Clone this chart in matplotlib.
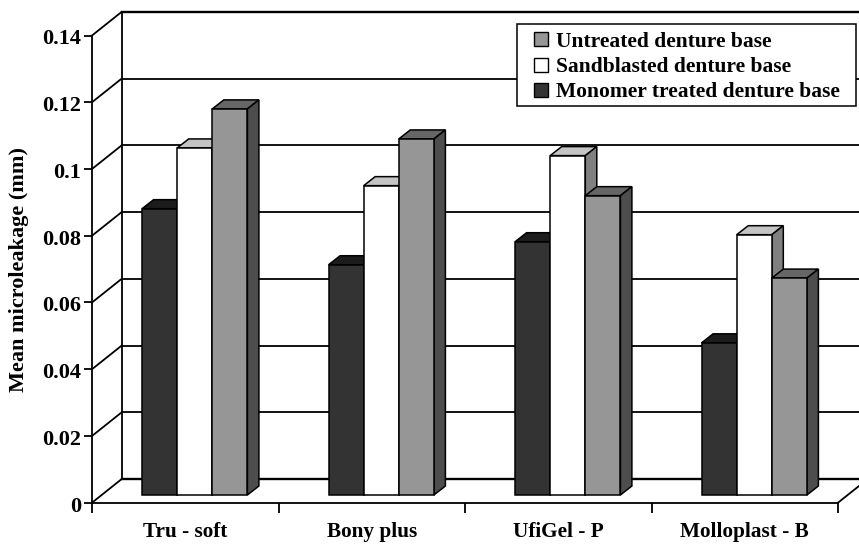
import matplotlib
matplotlib.use("Agg")
import matplotlib.pyplot as plt
from matplotlib.patches import Polygon, Rectangle
from matplotlib.lines import Line2D
from matplotlib.transforms import ScaledTranslation

plt.rcParams['font.family'] = ['Liberation Serif', 'DejaVu Serif']
plt.rcParams['font.weight'] = 'bold'

categories = ['Tru - soft', 'Bony plus', 'UfiGel - P', 'Molloplast - B']
monomer = [0.0858, 0.0690, 0.0759, 0.0456]
sandblasted = [0.1040, 0.0927, 0.1017, 0.0780]
untreated = [0.1157, 0.1067, 0.0897, 0.0650]
series_names = ['Monomer treated denture base', 'Sandblasted denture base', 'Untreated denture base']
y_ticks = [0, 0.02, 0.04, 0.06, 0.08, 0.1, 0.12, 0.14]
y_labels = ['0', '0.02', '0.04', '0.06', '0.08', '0.1', '0.12', '0.14']

W, H = 859, 545
fig = plt.figure(figsize=(W/100, H/100), dpi=100)
x0, x1, ytop, ybot = 92, 838, 35.5, 502.7
ax = fig.add_axes([x0/W, 1-ybot/H, (x1-x0)/W, (ybot-ytop)/H])
ax.set_xlim(0, 4)
ax.set_ylim(0, 0.14)
px_x = 4/(x1-x0)
px_y = 0.14/(ybot-ytop)

depth_x, depth_y = 29.5*px_x, 23.5*px_y
bar_w = 35.1*px_x
shift_x, shift_y = 9.5*px_x, 7.7*px_y
bar_dx, bar_dy = 11.5*px_x, 9*px_y

lw = 1.3
kw = dict(color='black', clip_on=False, zorder=1, solid_capstyle='projecting')
for t in y_ticks:
    ax.plot([0, depth_x], [t, t+depth_y], lw=lw, **kw)
    ax.plot([depth_x, 4+depth_x], [t+depth_y, t+depth_y], lw=1.7 if t in (0, 0.14) else lw, **kw)
ax.plot([depth_x, depth_x], [depth_y, 0.14+depth_y], lw=lw, **kw)
ax.plot([4, 4+depth_x], [0, depth_y], lw=lw, **kw)

styles = [('#333333', '#1c1c1c', '#1c1c1c'),
          ('#ffffff', '#c4c4c4', '#808080'),
          ('#969696', '#666666', '#4d4d4d')]
for s, (vals, (front, top, side)) in enumerate(zip([monomer, sandblasted, untreated], styles)):
    z = 3 + s
    xs = [i + 0.5 + (s-1)*bar_w + shift_x for i in range(len(categories))]
    ax.bar(xs, vals, width=bar_w, bottom=shift_y, color=front, edgecolor='black',
           linewidth=1.1, zorder=z+0.5, label=series_names[s])
    for x, v in zip(xs, vals):
        l, r, yb, yt = x-bar_w/2, x+bar_w/2, shift_y, shift_y+v
        ax.add_patch(Polygon([(l, yt), (r, yt), (r+bar_dx, yt+bar_dy), (l+bar_dx, yt+bar_dy)],
                             facecolor=top, edgecolor='black', lw=1.1, zorder=z, clip_on=False))
        ax.add_patch(Polygon([(r, yb), (r+bar_dx, yb+bar_dy), (r+bar_dx, yt+bar_dy), (r, yt)],
                             facecolor=side, edgecolor='black', lw=1.1, zorder=z, clip_on=False))

for sp in ('top', 'right'):
    ax.spines[sp].set_visible(False)
for sp in ('left', 'bottom'):
    ax.spines[sp].set_linewidth(1.3)
ax.patch.set_alpha(0)
ax.set_yticks(y_ticks, y_labels)
ax.set_xticks(range(5), [''] * 5)
ax.set_xticks([i+0.5 for i in range(4)], categories, minor=True)
ax.tick_params(axis='y', length=6, width=1.3, pad=2, labelsize=16)
ax.tick_params(axis='x', which='major', length=7, width=1.3)
ax.tick_params(axis='x', which='minor', length=0, pad=14, labelsize=15.3)
down = ScaledTranslation(0, -1.5/100, fig.dpi_scale_trans)
for lab in ax.get_yticklabels():
    lab.set_transform(lab.get_transform() + down)
ax.set_ylabel('Mean microleakage (mm)', fontsize=16, fontweight='bold')
ax.yaxis.set_label_coords((29-x0)/(x1-x0), (ybot-270)/(ybot-ytop))

ax.add_patch(Rectangle((516.7/W, 1-106/H), 339/W, 82.3/H, transform=fig.transFigure,
                       facecolor='white', edgecolor='black', lw=1.1, zorder=9, clip_on=False))
proxies = [Line2D([], [], linestyle='none', marker='s', markersize=9.5, markerfacecolor=styles[i][0],
                  markeredgecolor='black', markeredgewidth=1.0) for i in (2, 1, 0)]
leg = ax.legend(proxies, series_names[::-1], loc='upper left',
                bbox_to_anchor=((516.7-x0)/(x1-x0), (ybot-26.5)/(ybot-ytop)),
                borderaxespad=0, fontsize=15.5, frameon=False, handlelength=1.76,
                handletextpad=-0.2, labelspacing=0.24, borderpad=0.25)
leg.set_zorder(10)
fig.savefig('out.png', dpi=100)
